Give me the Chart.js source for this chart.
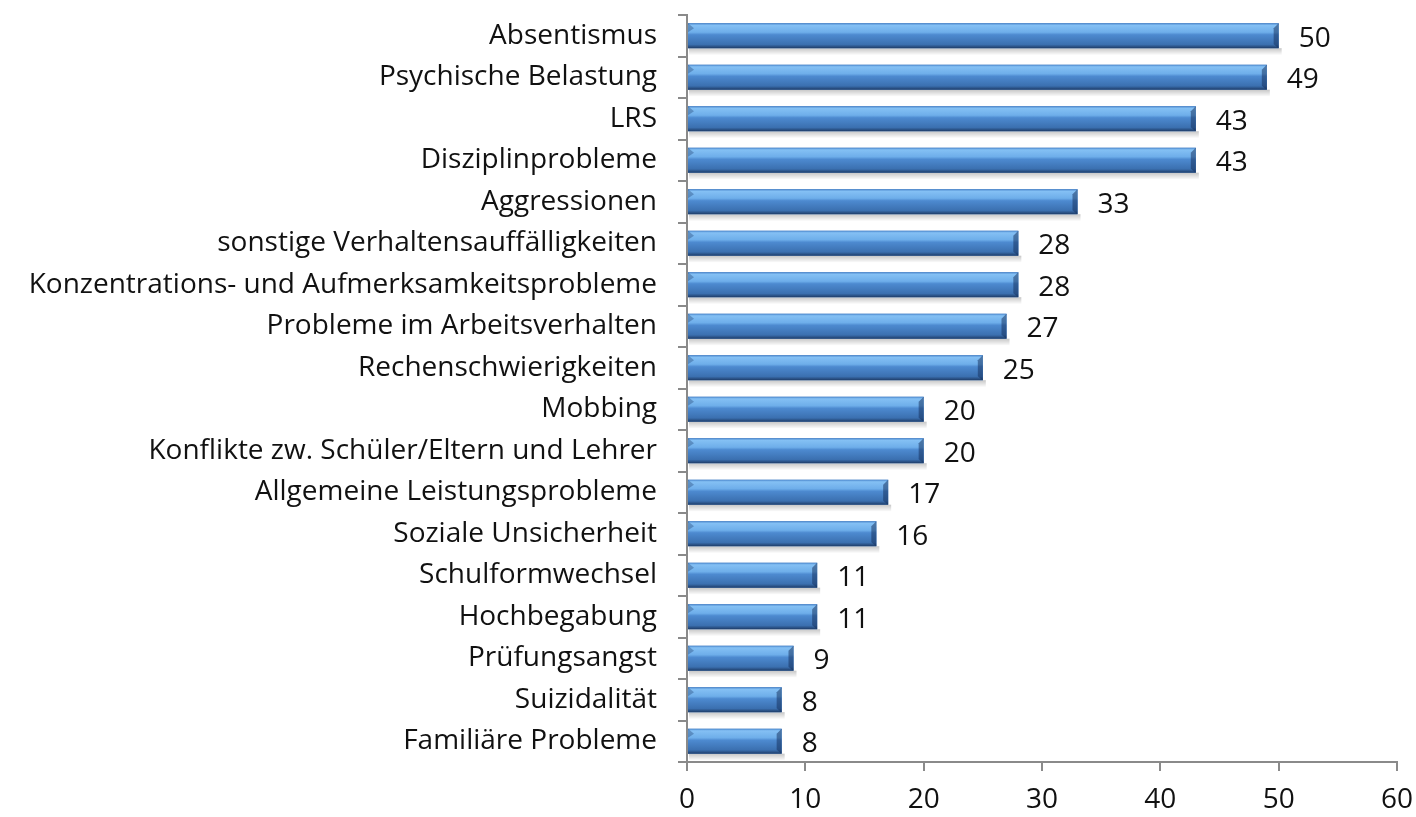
<!DOCTYPE html>
<html>
<head>
<meta charset="utf-8">
<script src="https://cdn.jsdelivr.net/npm/chart.js@4"></script>
<style>
  html, body { margin: 0; padding: 0; background: #fff; }
  #wrap { width: 1416px; height: 817px; }
</style>
</head>
<body>
<div id="wrap"><canvas id="chart"></canvas></div>
<script>
const categories = [
  "Absentismus", "Psychische Belastung", "LRS", "Disziplinprobleme", "Aggressionen",
  "sonstige Verhaltensauffälligkeiten", "Konzentrations- und Aufmerksamkeitsprobleme",
  "Probleme im Arbeitsverhalten", "Rechenschwierigkeiten", "Mobbing",
  "Konflikte zw. Schüler/Eltern und Lehrer", "Allgemeine Leistungsprobleme",
  "Soziale Unsicherheit", "Schulformwechsel", "Hochbegabung", "Prüfungsangst",
  "Suizidalität", "Familiäre Probleme"
];
const counts = [50, 49, 43, 43, 33, 28, 28, 27, 25, 20, 20, 17, 16, 11, 11, 9, 8, 8];
const xTicks = [0, 10, 20, 30, 40, 50, 60];

const FONT = "Open Sans";
const axisGrey = "#8a8a8a";

// bevel/shine effect on each bar + value labels
const barStyle = {
  id: "barStyle",
  beforeDatasetsDraw(chart) {
    const ctx = chart.ctx;
    chart.getDatasetMeta(0).data.forEach(bar => {
      const top = bar.y - bar.height / 2;
      ctx.save();
      const g = ctx.createLinearGradient(0, top + bar.height, 0, top + bar.height + 7);
      g.addColorStop(0, "rgba(0,0,0,0.22)");
      g.addColorStop(1, "rgba(0,0,0,0)");
      ctx.fillStyle = g;
      ctx.fillRect(bar.base + 1, top + bar.height, bar.x - bar.base + 2, 7);
      ctx.restore();
    });
  },
  afterDatasetsDraw(chart) {
    const ctx = chart.ctx;
    chart.getDatasetMeta(0).data.forEach((bar, i) => {
      const top = bar.y - bar.height / 2;
      const h = bar.height;
      const left = bar.base;
      const right = bar.x;
      ctx.save();
      const g = ctx.createLinearGradient(0, top, 0, top + h);
      g.addColorStop(0, "#4a86cc");
      g.addColorStop(0.08, "#84c0f4");
      g.addColorStop(0.36, "#6eaeea");
      g.addColorStop(0.46, "#4d8ad0");
      g.addColorStop(0.85, "#3b70b0");
      g.addColorStop(1, "#1e3c68");
      ctx.fillStyle = g;
      ctx.fillRect(left, top, right - left, h);
      // left bevel
      ctx.fillStyle = "rgba(30,60,110,0.35)";
      ctx.beginPath();
      ctx.moveTo(left, top);
      ctx.lineTo(left + 6, top + 5);
      ctx.lineTo(left, top + 9);
      ctx.closePath();
      ctx.fill();
      // right bevel
      ctx.fillStyle = "rgba(20,45,90,0.5)";
      ctx.beginPath();
      ctx.moveTo(right - 5, top + 5);
      ctx.lineTo(right, top);
      ctx.lineTo(right, top + h);
      ctx.lineTo(right - 5, top + h - 4);
      ctx.closePath();
      ctx.fill();
      // value label
      ctx.fillStyle = "#111";
      ctx.font = "28px '" + FONT + "'";
      ctx.textBaseline = "middle";
      ctx.textAlign = "left";
      ctx.fillText(counts[i], right + 20, bar.y + 3);
      ctx.restore();
    });
  }
};

new Chart(document.getElementById("chart"), {
  type: "bar",
  data: {
    labels: categories,
    datasets: [{
      data: counts,
      backgroundColor: "#3f78be",
      barPercentage: 0.6,
      categoryPercentage: 1
    }]
  },
  options: {
    indexAxis: "y",
    responsive: true,
    maintainAspectRatio: false,
    animation: false,
    layout: { padding: { top: 15, right: 19, left: 0, bottom: 0 } },
    plugins: { legend: { display: false }, tooltip: { enabled: false } },
    scales: {
      x: {
        min: 0,
        max: 60,
        afterBuildTicks: scale => { scale.ticks = xTicks.map(v => ({ value: v })); },
        afterFit: scale => { scale.height = 55; scale.paddingLeft = 0; scale.paddingRight = 0; },
        grid: { drawOnChartArea: false, tickLength: 9, color: axisGrey, lineWidth: 2 },
        border: { color: axisGrey, width: 2 },
        ticks: { color: "#111", font: { family: FONT, size: 28 }, padding: 12 }
      },
      y: {
        afterFit: scale => { scale.width = 687; scale.paddingTop = 0; scale.paddingBottom = 0; },
        grid: { drawOnChartArea: false, tickLength: 9, color: axisGrey, lineWidth: 2 },
        border: { color: axisGrey, width: 2 },
        ticks: { color: "#111", font: { family: FONT, size: 28 }, padding: 21 }
      }
    }
  },
  plugins: [barStyle]
});
</script>
</body>
</html>
